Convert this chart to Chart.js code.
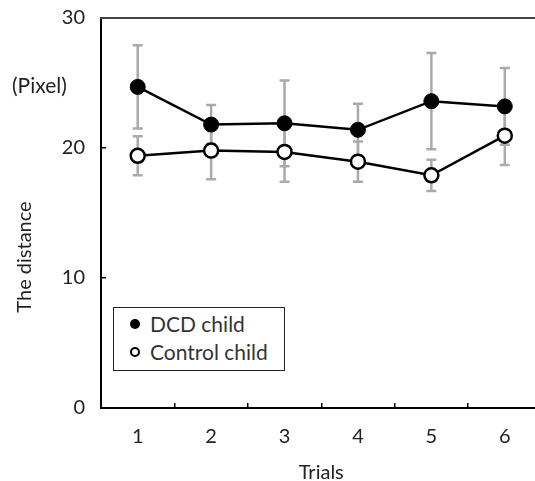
<!DOCTYPE html>
<html>
<head>
<meta charset="utf-8">
<script src="https://cdn.jsdelivr.net/npm/chart.js@4"></script>
<style>
  html, body { margin: 0; padding: 0; background: #fff; overflow: hidden; width: 535px; height: 481px; }
  #wrap { position: absolute; left: 0; top: 0; width: 560px; height: 481px; }
  .lbl { position: absolute; font-family: Lato, 'Open Sans', sans-serif; color: #222; white-space: nowrap; }
  #unit { left: 12px; top: 72px; font-size: 21px; }
  #ytitle { left: 23px; top: 257px; font-size: 20px; transform: translate(-50%, -50%) rotate(-90deg); }
  #legend { position: absolute; left: 113px; top: 307px; width: 170px; height: 62px; border: 1.5px solid #222;
            font-family: Lato, 'Open Sans', sans-serif; font-size: 21px; color: #333; background: #fff; }
  .row { position: absolute; left: 0; height: 24px; line-height: 24px; white-space: nowrap; }
  .row span.t { position: absolute; left: 36px; top: 0; white-space: nowrap; }
  .dot { position: absolute; left: 16px; top: 7px; width: 10px; height: 10px; border-radius: 50%; box-sizing: border-box; }
</style>
</head>
<body>
<div id="wrap"><canvas id="c" width="560" height="481"></canvas></div>
<div class="lbl" id="unit">(Pixel)</div>
<div class="lbl" id="ytitle">The distance</div>
<div id="legend">
  <div class="row" style="top:4px"><div class="dot" style="background:#000"></div><span class="t">DCD child</span></div>
  <div class="row" style="top:32px"><div class="dot" style="border:2px solid #000;background:#fff"></div><span class="t">Control child</span></div>
</div>
<script>
const trials = ['1', '2', '3', '4', '5', '6'];
const dcdMean = [24.7, 21.8, 21.9, 21.4, 23.6, 23.2];
const dcdSd = [3.2, 1.5, 3.3, 2.0, 3.7, 2.95];
const controlMean = [19.4, 19.8, 19.7, 18.95, 17.9, 20.95];
const controlSd = [1.5, 2.2, 2.3, 1.55, 1.2, 2.25];
const yTicks = [0, 10, 20, 30];

const errorBars = {
    id: 'errorBars',
    beforeDatasetsDraw(chart) {
        const ctx = chart.ctx;
        const y = chart.scales.y;
        ctx.save();
        ctx.strokeStyle = '#aaaaaa';
        ctx.lineWidth = 2.5;
        chart.data.datasets.forEach((ds, i) => {
            const meta = chart.getDatasetMeta(i);
            meta.data.forEach((pt, j) => {
                const top = y.getPixelForValue(ds.data[j] + ds.errors[j]);
                const bot = y.getPixelForValue(ds.data[j] - ds.errors[j]);
                ctx.beginPath();
                ctx.moveTo(pt.x, top); ctx.lineTo(pt.x, bot);
                ctx.moveTo(pt.x - 5, top); ctx.lineTo(pt.x + 5, top);
                ctx.moveTo(pt.x - 5, bot); ctx.lineTo(pt.x + 5, bot);
                ctx.stroke();
            });
        });
        ctx.restore();
    }
};

const topFrame = {
    id: 'topFrame',
    afterDraw(chart) {
        const a = chart.chartArea;
        const ctx = chart.ctx;
        ctx.save();
        ctx.strokeStyle = '#444';
        ctx.lineWidth = 2;
        ctx.beginPath();
        ctx.moveTo(a.left - 1, a.top);
        ctx.lineTo(a.right, a.top);
        ctx.stroke();
        ctx.restore();
    }
};

const tickFont = { family: 'Lato', size: 20 };

new Chart(document.getElementById('c'), {
    type: 'line',
    data: {
        labels: trials,
        datasets: [
            {
                label: 'DCD child',
                data: dcdMean,
                errors: dcdSd,
                borderColor: '#000',
                borderWidth: 2.5,
                pointBackgroundColor: '#000',
                pointBorderColor: '#000',
                pointBorderWidth: 1,
                pointRadius: 7.5,
                tension: 0
            },
            {
                label: 'Control child',
                data: controlMean,
                errors: controlSd,
                borderColor: '#000',
                borderWidth: 2.5,
                pointBackgroundColor: '#fff',
                pointBorderColor: '#000',
                pointBorderWidth: 2.5,
                pointRadius: 7,
                tension: 0
            }
        ]
    },
    options: {
        responsive: false,
        animation: false,
        layout: { padding: { left: 0, right: 18.5, top: 18, bottom: 0 } },
        plugins: { legend: { display: false }, tooltip: { enabled: false } },
        scales: {
            x: {
                type: 'category',
                offset: true,
                grid: { offset: true, drawOnChartArea: false, tickLength: -5, color: '#000', lineWidth: 1.5 },
                border: { color: '#000', width: 2 },
                ticks: { color: '#222', font: tickFont, padding: 22, maxRotation: 0 },
                title: { display: true, text: 'Trials', color: '#222', font: { family: 'Lato', size: 20 }, padding: { top: 0, bottom: -4 } },
                afterFit(scale) { scale.height = 73; }
            },
            y: {
                min: 0,
                max: 30,
                afterBuildTicks(scale) { scale.ticks = yTicks.map(v => ({ value: v })); },
                grid: { drawOnChartArea: false, tickLength: -5, color: '#000', lineWidth: 1.5 },
                border: { color: '#000', width: 2 },
                ticks: { color: '#222', font: tickFont, padding: 21 },
                afterFit(scale) {
                    scale.width = 101;
                    scale.paddingTop = 0;
                    scale.paddingBottom = 0;
                }
            }
        }
    },
    plugins: [errorBars, topFrame]
});
</script>
</body>
</html>
